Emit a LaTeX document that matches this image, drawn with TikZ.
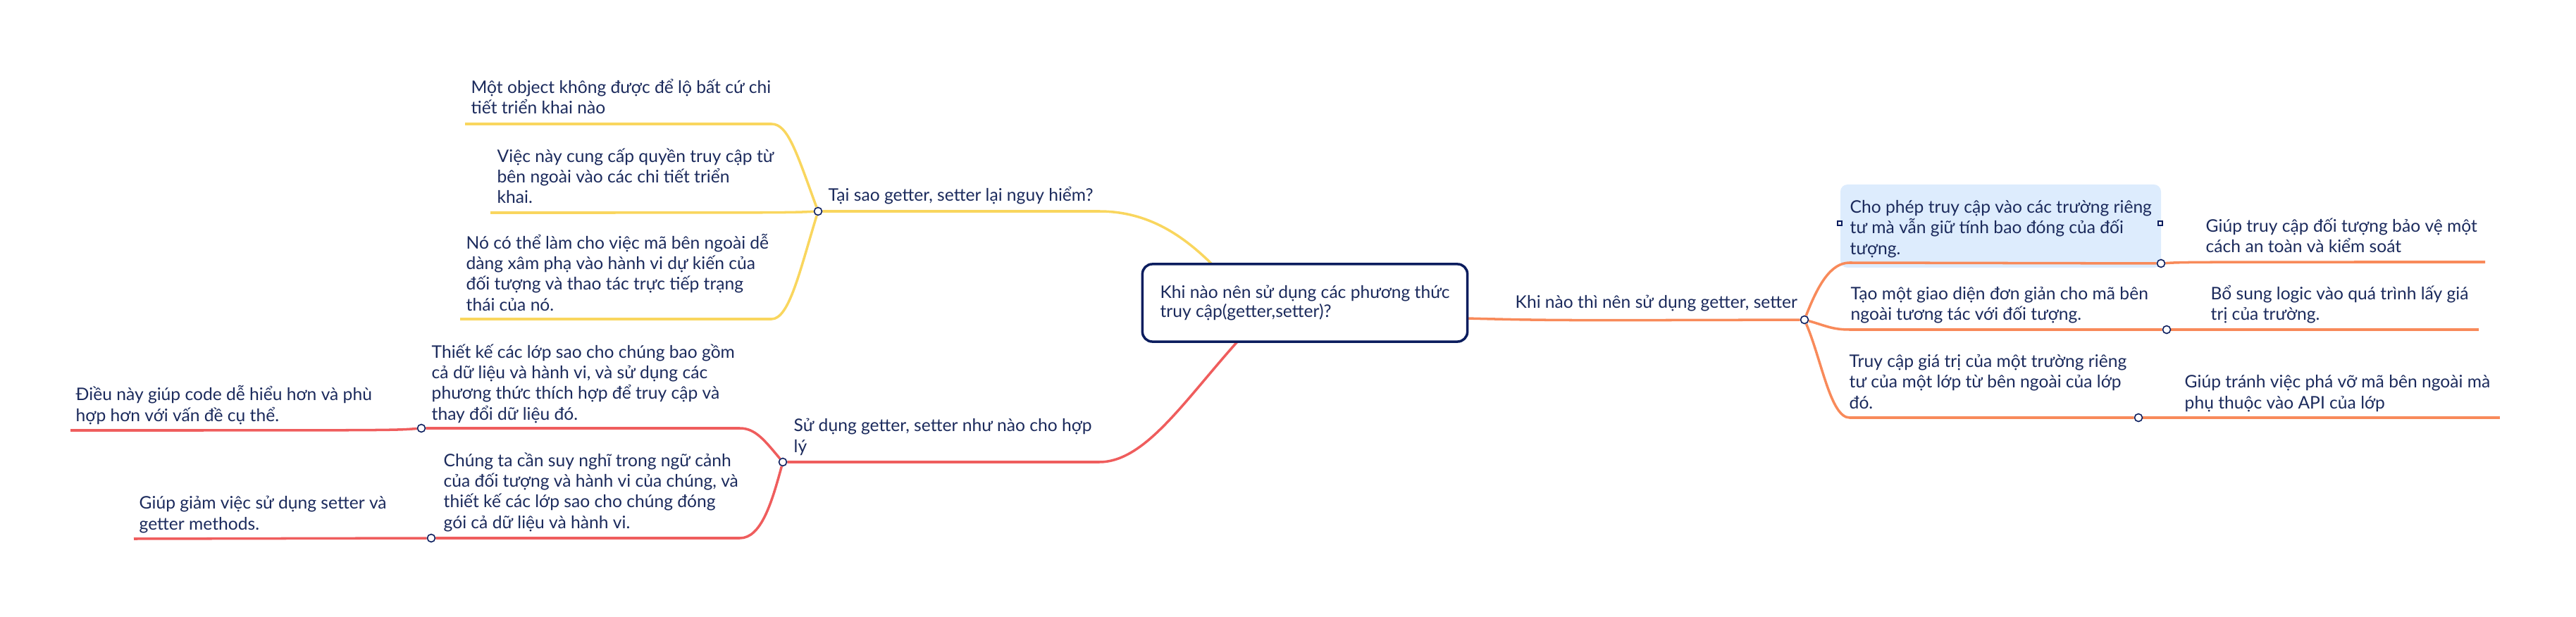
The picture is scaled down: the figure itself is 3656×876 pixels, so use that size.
\documentclass[tikz,border=0pt]{standalone}
\usepackage{fontspec}
\setmainfont{Lato}
\usetikzlibrary{backgrounds}
\definecolor{ink}{HTML}{1B2A5C}
\definecolor{navy}{HTML}{0B1D5E}
\definecolor{ylw}{HTML}{F9D65E}
\definecolor{org}{HTML}{F88A5A}
\definecolor{rd}{HTML}{EF5D5D}
\definecolor{hl}{HTML}{DDECFD}
\tikzset{
  txt/.style={anchor=base west,align=left,inner sep=0,text=ink,font=\fontsize{7}{8.34}\selectfont},
  junc/.style={circle,draw=navy,fill=white,line width=0.45pt,inner sep=0,minimum size=0.11cm},
  grip/.style={rectangle,draw=navy,fill=white,line width=0.45pt,inner sep=0,minimum size=0.065cm},
  rootbox/.style={draw=navy,line width=1pt,rounded corners=0.14cm,fill=white,minimum width=4.61cm,minimum height=1.1cm,inner sep=0,align=left,text=ink,font=\fontsize{7}{7.9}\selectfont},
  ybr/.style={draw=ylw,line width=1pt},
  obr/.style={draw=org,line width=1pt},
  rbr/.style={draw=rd,line width=1pt}
}
\begin{document}
\begin{tikzpicture}[x=0.01cm,y=-0.01cm]
\useasboundingbox (0,0) rectangle (3656,876);
\node[rootbox] (root) at (1852,430) {Khi nào nên sử dụng các phương thức\\truy cập(getter,setter)?};
\coordinate (rootT) at (1722,377);\coordinate (rootB) at (1758,483);\coordinate (rootR) at (2081,452);
\node[junc] (jWhy) at (1161,300) {};\node[junc] (jHow) at (1111,656) {};\node[junc] (jWhen) at (2561,454) {};
\node[junc] (jH1) at (598,608) {};\node[junc] (jH2) at (612,764) {};
\node[junc] (jW1) at (3067,374) {};\node[junc] (jW2) at (3075,468) {};\node[junc] (jW3) at (3035,593) {};
\node[grip] (gripL) at (2611,317) {};\node[grip] (gripR) at (3066,317) {};
\coordinate (eY1) at (660,176);\coordinate (eY2) at (696,302);\coordinate (eY3) at (653,453);
\coordinate (eH1) at (100,611);\coordinate (eH2) at (190,765);
\coordinate (eW1) at (3527,372);\coordinate (eW2) at (3518,468);\coordinate (eW3) at (3548,593);
\node[txt] (why) at (1175,286) {Tại sao getter, setter lại nguy hiểm?};
\node[txt] (y1) at (668,162) {Một object không được để lộ bất cứ chi\\tiết triển khai nào};
\node[txt] (y2) at (705,289) {Việc này cung cấp quyền truy cập từ\\bên ngoài vào các chi tiết triển\\khai.};
\node[txt] (y3) at (661,441) {Nó có thể làm cho việc mã bên ngoài dễ\\dàng xâm phạ vào hành vi dự kiến của\\đối tượng và thao tác trực tiếp trạng\\thái của nó.};
\node[txt] (how) at (1126,642) {Sử dụng getter, setter như nào cho hợp\\lý};
\node[txt] (h1) at (612,596) {Thiết kế các lớp sao cho chúng bao gồm\\cả dữ liệu và hành vi, và sử dụng các\\phương thức thích hợp để truy cập và\\thay đổi dữ liệu đó.};
\node[txt] (h1a) at (107,598) {Điều này giúp code dễ hiểu hơn và phù\\hợp hơn với vấn đề cụ thể.};
\node[txt] (h2) at (629,750) {Chúng ta cần suy nghĩ trong ngữ cảnh\\của đối tượng và hành vi của chúng, và\\thiết kế các lớp sao cho chúng đóng\\gói cả dữ liệu và hành vi.};
\node[txt] (h2a) at (197,752) {Giúp giảm việc sử dụng setter và\\getter methods.};
\node[txt] (when) at (2150,438) {Khi nào thì nên sử dụng getter, setter};
\node[txt] (w1) at (2625,361) {Cho phép truy cập vào các trường riêng\\tư mà vẫn giữ tính bao đóng của đối\\tượng.};
\node[txt] (w1a) at (3130,359) {Giúp truy cập đối tượng bảo vệ một\\cách an toàn và kiểm soát};
\node[txt] (w2) at (2626,455) {Tạo một giao diện đơn giản cho mã bên\\ngoài tương tác với đối tượng.};
\node[txt] (w2a) at (3137,455) {Bổ sung logic vào quá trình lấy giá\\trị của trường.};
\node[txt] (w3) at (2624,580) {Truy cập giá trị của một trường riêng\\tư của một lớp từ bên ngoài của lớp\\đó.};
\node[txt] (w3a) at (3100,580) {Giúp tránh việc phá vỡ mã bên ngoài mà\\phụ thuộc vào API của lớp};
\begin{pgfonlayer}{background}
\fill[hl,rounded corners=0.1cm] (2612,262) rectangle (3067,380);
\draw[ybr] (rootT) .. controls (1680,335) and (1630,300) .. (1560,300) -- (jWhy);
\draw[ybr] (jWhy) .. controls (1130,215) and (1118,176) .. (1095,176) -- (eY1);
\draw[ybr] (jWhy) .. controls (1120,302) .. (eY2);
\draw[ybr] (jWhy) .. controls (1135,385) and (1120,453) .. (1095,453) -- (eY3);
\draw[rbr] (rootB) .. controls (1680,570) and (1625,656) .. (1560,656) -- (jHow);
\draw[rbr] (jHow) .. controls (1085,625) and (1072,608) .. (1050,608) -- (jH1);
\draw[rbr] (jHow) .. controls (1095,715) and (1080,764) .. (1050,764) -- (jH2);
\draw[rbr] (jH1) .. controls (560,611) .. (eH1);\draw[rbr] (jH2) -- (eH2);
\draw[obr] (rootR) .. controls (2200,455) .. (jWhen);
\draw[obr] (jWhen) .. controls (2580,405) and (2598,373) .. (2625,373) -- (jW1);
\draw[obr] (jWhen) .. controls (2590,462) and (2600,468) .. (2625,468) -- (jW2);
\draw[obr] (jWhen) .. controls (2585,510) and (2598,593) .. (2625,593) -- (jW3);
\draw[obr] (jW1) .. controls (3100,372) .. (eW1);\draw[obr] (jW2) -- (eW2);\draw[obr] (jW3) -- (eW3);
\end{pgfonlayer}
\end{tikzpicture}
\end{document}
